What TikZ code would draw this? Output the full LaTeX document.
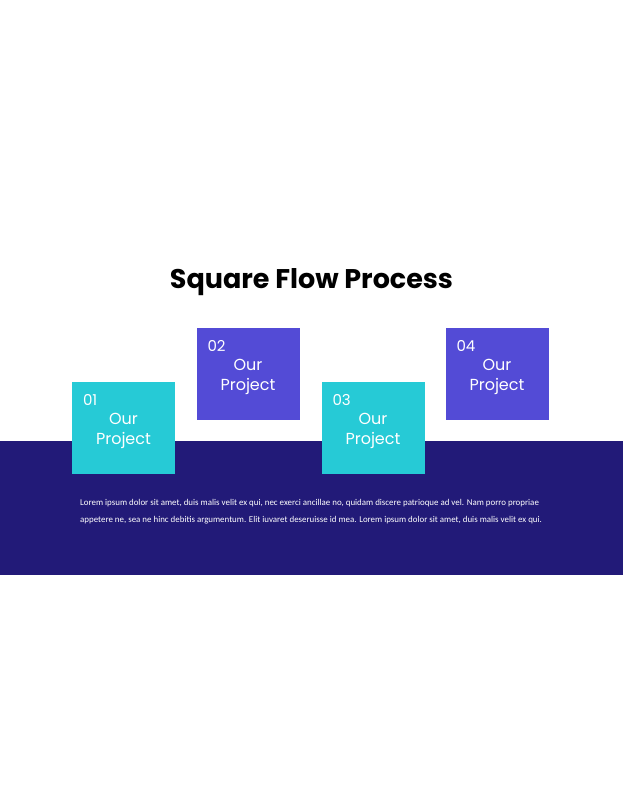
\documentclass[tikz,border=0pt]{standalone}
\usepackage{fontspec}
\setmainfont{Poppins}
\newfontfamily\bodyfont{Carlito}
\usepackage{tikz}
\definecolor{bandnavy}{HTML}{221A78}
\definecolor{sqcyan}{HTML}{26CAD6}
\definecolor{sqviolet}{HTML}{534BD6}
\tikzset{
    square/.style={fill=#1, draw=none, minimum width=103pt, minimum height=92pt, inner sep=0pt},
    sqnum/.style={anchor=north west, text=white, font=\fontsize{15}{15}\selectfont, inner sep=0pt},
    sqlabel/.style={text=white, align=center, font=\fontsize{16}{20}\selectfont, inner sep=0pt},
}

\begin{document}
\begin{tikzpicture}[x=1pt,y=-1pt]
\useasboundingbox (0,0) rectangle (623,800);
\fill[bandnavy] (0,441) rectangle (623,575);
\node[font=\fontsize{27}{27}\selectfont\bfseries] (title) at (311.5,282) {Square Flow Process};
\foreach \n/\x/\y/\c in {1/123.5/428/sqcyan, 2/248/374/sqviolet, 3/373/428/sqcyan, 4/497/374/sqviolet} {
\node[square=\c] (s\n) at (\x,\y) {};
\node[sqnum] (n\n) at ([xshift=11pt,yshift=-12pt]s\n.north west) {0\n};
\node[sqlabel] (l\n) at ([yshift=-3pt]s\n.center) {Our\\Project};
}
\node[anchor=north west, text=white, align=left, inner sep=0pt,
      font=\bodyfont\fontsize{8.9}{17}\selectfont] (body) at (80,499)
  {Lorem ipsum dolor sit amet, duis malis velit ex qui, nec exerci ancillae no, quidam discere patrioque ad vel. Nam porro propriae\\
   appetere ne, sea ne hinc debitis argumentum. Elit iuvaret deseruisse id mea. Lorem ipsum dolor sit amet, duis malis velit ex qui.};
\end{tikzpicture}
\end{document}
